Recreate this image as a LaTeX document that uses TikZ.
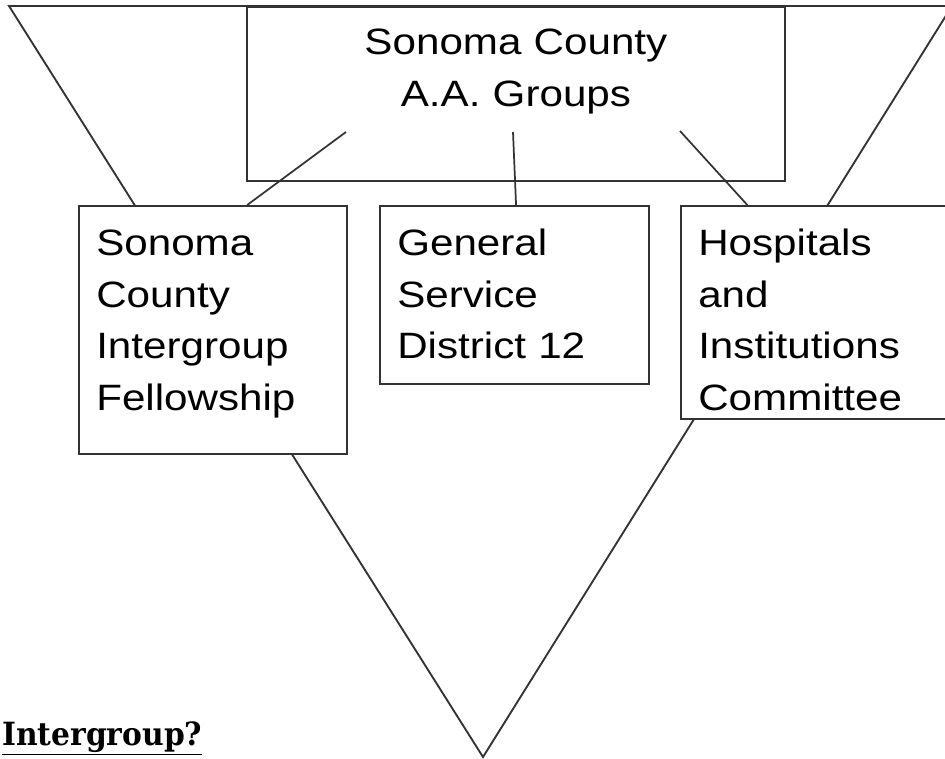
\documentclass[tikz,border=0pt]{standalone}
\usepackage{fontspec}
\usepackage{tikz}
\usetikzlibrary{positioning,calc}
\newfontfamily\boxfont[FakeStretch=1.15]{Liberation Sans}
\newfontfamily\headfont[FakeStretch=0.93]{DejaVu Serif}

\begin{document}
\begin{tikzpicture}[
    x=0.75pt, y=-0.75pt,
    % Stili base
    unitbox/.style={rectangle, draw=black!80, fill=white, line width=1.4pt, anchor=north west, inner xsep=13pt, inner ysep=0pt, align=left, text height=37.5pt, font=\boxfont\fontsize{27.5}{38.6}\selectfont},
    topbox/.style={unitbox, align=center, text height=36pt},
    % Linee
    frame/.style={draw=black!80, line width=1.4pt, line join=miter},
    link/.style={draw=black!80, line width=1.3pt},
    % Testo
    heading/.style={font=\headfont\bfseries\fontsize{24}{28}\selectfont, anchor=base west, inner sep=0pt}
]

\useasboundingbox (0,0) rectangle (945,759);
\clip (0,0) rectangle (945,759);

% === TRIANGOLO ===
\draw[frame] (9,6) -- (952,6) -- (483,757) -- cycle;

% === GRUPPI ===
\node[topbox, text width=377.5pt, text depth=94.5pt] (groups) at (246,6) {Sonoma County\\A.A. Groups};

% === SERVIZI ===
\node[unitbox, text width=175pt, text depth=148.5pt] (intergroup) at (78,205) {Sonoma\\County\\Intergroup\\Fellowship};
\node[unitbox, text width=175.75pt, text depth=96pt] (district) at (379,205) {General\\Service\\District 12};
\node[unitbox, text width=199pt, text depth=122.25pt] (hospitals) at (680,205) {Hospitals\\and\\Institutions\\Committee};

% Connessioni
\coordinate (tapL) at (346,132);
\coordinate (tapM) at (513,132);
\coordinate (tapR) at (680,131);
\draw[link] (tapL) -- ($(intergroup.north west)!0.627!(intergroup.north east)$);
\draw[link] (tapM) -- ($(district.north west)!0.506!(district.north east)$);
\draw[link] (tapR) -- ($(hospitals.north west)!0.223!(hospitals.north east)$);

% === DOMANDA ===
\node[heading] (question) at (2,745) {\underline{Intergroup?}};

\end{tikzpicture}
\end{document}
